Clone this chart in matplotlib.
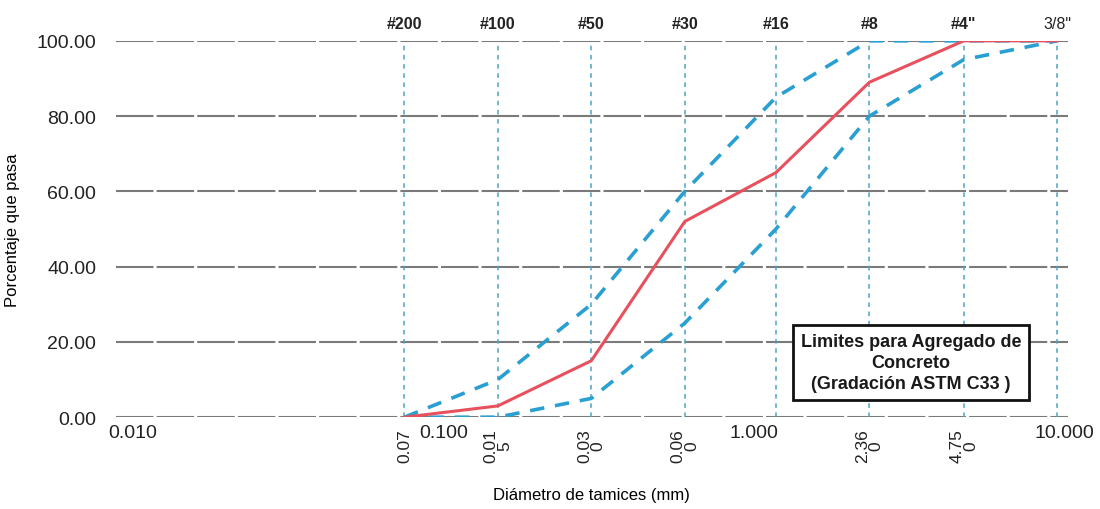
import numpy as np
import matplotlib
matplotlib.use('Agg')
import matplotlib.pyplot as plt
from matplotlib.ticker import FixedLocator, FormatStrFormatter, NullLocator

plt.rcParams['font.family'] = ['Liberation Sans', 'DejaVu Sans']

# tamices (mm) y nombres
sieve_mm = [0.075, 0.15, 0.3, 0.6, 1.18, 2.36, 4.75, 9.5]
sieve_names = ['#200', '#100', '#50', '#30', '#16', '#8', '#4"', '3/8"']
sieve_rot_labels = ['0.07', '0.01\n5', '0.03\n0', '0.06\n0', '', '2.36\n0', '4.75\n0', '']

# % que pasa
muestra = [0, 3, 15, 52, 65, 89, 100, 100]
lim_sup = [0, 10, 30, 60, 85, 100, 100, 100]
lim_inf = [0, 0, 5, 25, 50, 80, 95, 100]

y_ticks = [0, 20, 40, 60, 80, 100]
x_ticks = [0.01, 0.1, 1, 10]

fig = plt.figure(figsize=(11, 5.1), dpi=100)
ax = fig.add_axes([0.105, 0.180, 0.866, 0.738])

ax.set_xscale('log')
ax.set_xlim(0.0088, 10.3)
ax.set_ylim(0, 100)

# rejilla horizontal
for yv in y_ticks:
    ax.axhline(yv, color='#7a7a7a', lw=1.5, ls=(0, (18, 1.5)), zorder=1)
# lineas verticales de tamices
for s in sieve_mm:
    ax.axvline(s, color='#4aa3c8', lw=1.1, ls=(0, (3, 3)), zorder=1)

ax.plot(sieve_mm, lim_sup, color='#2a9fd2', lw=2.6, ls=(0, (4, 3)), zorder=3)
ax.plot(sieve_mm, lim_inf, color='#2a9fd2', lw=2.6, ls=(0, (4, 3)), zorder=3)
ax.plot(sieve_mm, muestra, color='#e8505e', lw=2.2, zorder=4)

for sp in ax.spines.values():
    sp.set_visible(False)

ax.yaxis.set_major_locator(FixedLocator(y_ticks))
ax.yaxis.set_major_formatter(FormatStrFormatter('%.2f'))
ax.xaxis.set_major_locator(FixedLocator(x_ticks))
ax.xaxis.set_major_formatter(FormatStrFormatter('%.3f'))
ax.xaxis.set_minor_locator(NullLocator())
ax.tick_params(axis='both', length=0, labelsize=14, colors='#222222')
ax.tick_params(axis='x', pad=5)
ax.tick_params(axis='y', pad=14)

ax.set_ylabel('Porcentaje que pasa', fontsize=12, labelpad=12)
ax.set_xlabel('Diámetro de tamices (mm)', fontsize=12, labelpad=33)

# nombres de tamices arriba
for s, n in zip(sieve_mm, sieve_names):
    ax.text(s, 102.5, n, ha='center', va='bottom', fontsize=11.5,
            fontweight='bold' if n != '3/8"' else 'normal', color='#222222')

# etiquetas giradas abajo
for s, t in zip(sieve_mm, sieve_rot_labels):
    if t:
        ax.text(s, -3, t, ha='center', va='top', rotation=90, fontsize=12.5,
                color='#222222', linespacing=0.9)

ax.text(0.835, 0.146, 'Limites para Agregado de\nConcreto\n(Gradación ASTM C33 )',
        transform=ax.transAxes, ha='center', va='center', fontsize=13,
        fontweight='bold', color='#1a1a1a', zorder=6, linespacing=1.3,
        bbox=dict(boxstyle='square,pad=0.45', fc='white', ec='#111111', lw=2))

fig.savefig('out.png', dpi=100)
